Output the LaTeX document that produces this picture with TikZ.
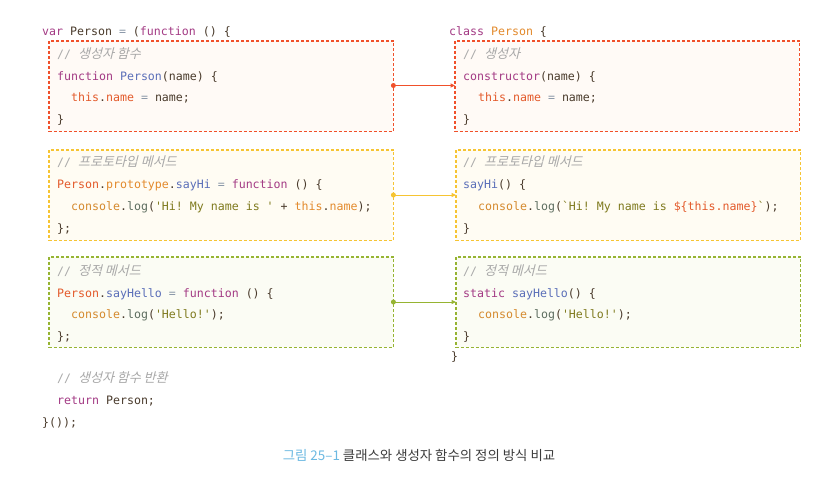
\documentclass[tikz,border=0pt]{standalone}
\usepackage{fontspec}
\setmainfont{Noto Sans CJK KR}
\setmonofont{DejaVu Sans Mono}
\newfontfamily\cjk{Noto Sans CJK KR}[FakeSlant=0.25,Scale=1.12]
\newfontfamily\capfont{Noto Sans CJK KR}
\usetikzlibrary{arrows.meta}
\definecolor{kw}{HTML}{A33A84}
\definecolor{pl}{HTML}{4A3B2C}
\definecolor{fn}{HTML}{5A6EB8}
\definecolor{org}{HTML}{E35A2B}
\definecolor{orl}{HTML}{E38A2C}
\definecolor{con}{HTML}{D58A2E}
\definecolor{lg}{HTML}{5E6E60}
\definecolor{eqc}{HTML}{8A98A8}
\definecolor{str}{HTML}{7F7A1E}
\definecolor{cm}{HTML}{A8A8A8}
\definecolor{redb}{HTML}{F0502A}
\definecolor{yelb}{HTML}{F6C433}
\definecolor{grnb}{HTML}{96B432}
\definecolor{redf}{HTML}{FFFAF6}
\definecolor{yelf}{HTML}{FFFCF3}
\definecolor{grnf}{HTML}{FBFCF4}
\definecolor{capblue}{HTML}{6CB9E2}
\definecolor{capgray}{HTML}{3C3C3C}
\newcommand{\K}[1]{\textcolor{kw}{#1}}
\newcommand{\F}[1]{\textcolor{fn}{#1}}
\newcommand{\Og}[1]{\textcolor{org}{#1}}
\newcommand{\Ol}[1]{\textcolor{orl}{#1}}
\newcommand{\Eq}{\textcolor{eqc}{=}}
\newcommand{\Cs}{\textcolor{con}{console}\textcolor{pl}{.}\textcolor{lg}{log}}
\newcommand{\St}[1]{\textcolor{str}{#1}}
\newcommand{\Cm}[1]{\textcolor{cm}{//~{\cjk #1}}}
\tikzset{
  x=1pt, y=-1pt,
  codebox/.style={minimum width=344pt, minimum height=90pt, anchor=north west, inner sep=0pt},
  border/.style={line width=1.1pt, dash pattern=on 3pt off 2pt},
  code/.style={anchor=base west, inner sep=0pt, font=\ttfamily\fontsize{11.6}{13}\selectfont, text=pl},
  conn/.style={line width=1pt, -{Triangle[length=4.5pt,width=4pt]}},
  dotc/.style={circle, inner sep=0pt, minimum size=5pt}
}
\begin{document}
\begin{tikzpicture}
\useasboundingbox (0,0) rectangle (836,482);
\fill[white] (0,0) rectangle (836,482);
% boxes
\node[codebox, fill=redf] (L1) at (49,41) {};
\node[codebox, fill=redf] (R1) at (455,41) {};
\node[codebox, fill=yelf] (L2) at (49,150) {};
\node[codebox, fill=yelf] (R2) at (456,150) {};
\node[codebox, fill=grnf] (L3) at (49,257) {};
\node[codebox, fill=grnf] (R3) at (456,257) {};
\draw[border, color=redb] (L1.north west) rectangle (L1.south east);
\draw[border, color=redb] (R1.north west) rectangle (R1.south east);
\draw[border, color=yelb] (L2.north west) rectangle (L2.south east);
\draw[border, color=yelb] (R2.north west) rectangle (R2.south east);
\draw[border, color=grnb] (L3.north west) rectangle (L3.south east);
\draw[border, color=grnb] (R3.north west) rectangle (R3.south east);
% connectors
\node[dotc, fill=redb] (d1) at (L1.east |- 0,85.5) {};
\coordinate (e1) at (R1.west |- 0,85.5);
\draw[conn, redb] (d1.center) -- (e1);
\node[dotc, fill=yelb] (d2) at (L2.east |- 0,195) {};
\coordinate (e2) at (R2.west |- 0,195);
\draw[conn, yelb] (d2.center) -- (e2);
\node[dotc, fill=grnb] (d3) at (L3.east |- 0,302) {};
\coordinate (e3) at (R3.west |- 0,302);
\draw[conn, grnb] (d3.center) -- (e3);
% left code
\node[code] (l0) at (42,35.5) {\K{var} Person \Eq{} (\K{function} () \{};
\node[code] (l1) at (57,58) {\Cm{생성자 함수}};
\node[code] (l2) at (57,80) {\K{function} \F{Person}(name) \{};
\node[code] (l3) at (71,101.5) {\Og{this}.\Og{name} \Eq{} name;};
\node[code] (l4) at (57,123) {\}};
\node[code] (l5) at (57,166) {\Cm{프로토타입 메서드}};
\node[code] (l6) at (57,188) {\Og{Person}.\Ol{prototype}.\F{sayHi} \Eq{} \K{function} () \{};
\node[code] (l7) at (71,210) {\Cs(\St{'Hi! My name is '} + \Ol{this}.\Ol{name});};
\node[code] (l8) at (57,232) {\};};
\node[code] (l9) at (57,275) {\Cm{정적 메서드}};
\node[code] (l10) at (57,297) {\Og{Person}.\F{sayHello} \Eq{} \K{function} () \{};
\node[code] (l11) at (71,318.5) {\Cs(\St{'Hello!'});};
\node[code] (l12) at (57,340) {\};};
\node[code] (l13) at (57,382) {\Cm{생성자 함수 반환}};
\node[code] (l14) at (57,404) {\K{return} Person;};
\node[code] (l15) at (42,426) {\}());};
% right code
\node[code] (r0) at (449,35.5) {\K{class} \Ol{Person} \{};
\node[code] (r1) at (463,58) {\Cm{생성자}};
\node[code] (r2) at (463,80) {\K{constructor}(name) \{};
\node[code] (r3) at (478,101.5) {\Og{this}.\Og{name} \Eq{} name;};
\node[code] (r4) at (463,123) {\}};
\node[code] (r5) at (463,166) {\Cm{프로토타입 메서드}};
\node[code] (r6) at (463,188) {\F{sayHi}() \{};
\node[code] (r7) at (478,210) {\Cs(\St{`Hi! My name is }\Og{\$\{this.name\}}\St{`});};
\node[code] (r8) at (463,232) {\}};
\node[code] (r9) at (463,275) {\Cm{정적 메서드}};
\node[code] (r10) at (463,297) {\K{static} \F{sayHello}() \{};
\node[code] (r11) at (478,318.5) {\Cs(\St{'Hello!'});};
\node[code] (r12) at (463,340) {\}};
\node[code] (r13) at (451,360) {\}};
% caption
\node[anchor=base, inner sep=0pt, font=\capfont\fontsize{13.4}{15}\selectfont] (cap) at (419,460)
  {\textcolor{capblue}{그림 25–1} \textcolor{capgray}{클래스와 생성자 함수의 정의 방식 비교}};
\end{tikzpicture}
\end{document}
